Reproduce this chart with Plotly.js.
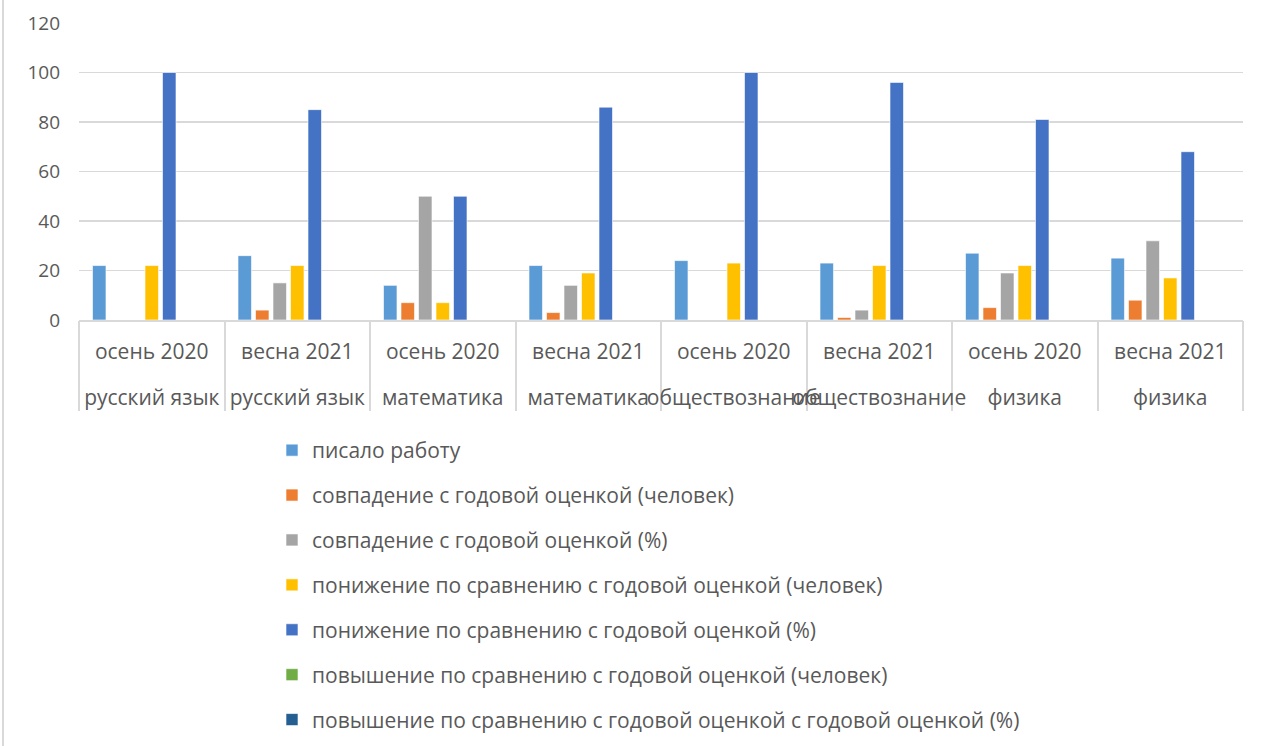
<!DOCTYPE html>
<html>
<head>
<meta charset="utf-8">
<script src="https://cdn.plot.ly/plotly-3.0.1.min.js"></script>
<style>
  html, body { margin: 0; padding: 0; background: #fff; }
  #wrap { position: relative; width: 1283px; height: 746px; }
  #chart { width: 1283px; height: 746px; }
  #edge { position: absolute; left: 2px; top: 0; width: 2px; height: 746px; background: #d9d9d9; }
</style>
</head>
<body>
<div id="wrap"><div id="chart"></div><div id="edge"></div></div>
<script>
// ---- data ----
const seasons  = ['осень 2020', 'весна 2021', 'осень 2020', 'весна 2021', 'осень 2020', 'весна 2021', 'осень 2020', 'весна 2021'];
const subjects = ['русский язык', 'русский язык', 'математика', 'математика', 'обществознание', 'обществознание', 'физика', 'физика'];

const seriesNames = [
  'писало работу',
  'совпадение с годовой оценкой (человек)',
  'совпадение с годовой оценкой (%)',
  'понижение по сравнению с годовой оценкой (человек)',
  'понижение по сравнению с годовой оценкой (%)',
  'повышение по сравнению с годовой оценкой (человек)',
  'повышение по сравнению с годовой оценкой с годовой оценкой (%)'
];
const wrote        = [22, 26, 14, 22, 24, 23, 27, 25];
const matchPeople  = [0, 4, 7, 3, 0, 1, 5, 8];
const matchPct     = [0, 15, 50, 14, 0, 4, 19, 32];
const lowerPeople  = [22, 22, 7, 19, 23, 22, 22, 17];
const lowerPct     = [100, 85, 50, 86, 100, 96, 81, 68];
const higherPeople = [0, 0, 0, 0, 0, 0, 0, 0];
const higherPct    = [0, 0, 0, 0, 0, 0, 0, 0];

const yTicks = [0, 20, 40, 60, 80, 100, 120];

// ---- styling ----
const colors = ['#5B9BD5', '#ED7D31', '#A5A5A5', '#FFC000', '#4472C4', '#70AD47', '#255E91'];
const textColor = '#595959';
const gridColor = '#D9D9D9';
const fontFamily = '"Open Sans", "Noto Sans", sans-serif';
const labelSize = 21;

const cats = seasons.map((s, i) => s + ' | ' + subjects[i]);
const allSeries = [wrote, matchPeople, matchPct, lowerPeople, lowerPct, higherPeople, higherPct];

const traces = allSeries.map((vals, k) => ({
  type: 'bar',
  name: seriesNames[k],
  x: cats,
  y: vals,
  legendgroup: 'g' + k,
  marker: { color: colors[k], line: { color: 'rgba(255,255,255,0.6)', width: 1 } },
  hoverinfo: 'x+y+name'
}));

// helper traces so the extra axes know the categories
traces.push({ type: 'bar', x: cats, y: cats.map(() => null), xaxis: 'x2', showlegend: false, hoverinfo: 'skip' });
traces.push({ type: 'bar', x: cats, y: cats.map(() => null), xaxis: 'x3', showlegend: false, hoverinfo: 'skip' });

const H = 746, T = 23, B = 14;
const paperH = H - T - B;
const plotBottomPx = 320;
const yDomBottom = (H - B - plotBottomPx) / paperH;
const subjAxisPx = 383;

const layout = {
  width: 1283,
  height: 746,
  margin: { l: 79, r: 40, t: T, b: B, autoexpand: false },
  paper_bgcolor: '#ffffff',
  plot_bgcolor: '#ffffff',
  font: { family: fontFamily, color: textColor, size: labelSize },
  barmode: 'group',
  bargap: 0.158,
  bargroupgap: 0.23,
  showlegend: true,
  legend: {
    orientation: 'v',
    x: (272 - 79) / 1164,
    xanchor: 'left',
    y: (H - B - 430) / paperH,
    yanchor: 'top',
    font: { family: fontFamily, color: textColor, size: labelSize },
    tracegroupgap: 14.6,
    traceorder: 'grouped',
    bgcolor: 'rgba(0,0,0,0)'
  },
  yaxis: {
    domain: [yDomBottom, 1],
    range: [0, 120],
    tickvals: yTicks,
    showgrid: true,
    gridcolor: gridColor,
    gridwidth: 1.5,
    zeroline: false,
    showline: false,
    ticks: '',
    ticklabelstandoff: 18,
    tickfont: { family: fontFamily, color: textColor, size: 19 },
    fixedrange: true
  },
  xaxis: {
    type: 'category',
    anchor: 'y',
    categoryarray: cats,
    tickvals: cats,
    ticktext: seasons,
    tickangle: 0,
    ticks: '',
    showline: true,
    linecolor: gridColor,
    linewidth: 2,
    showgrid: false,
    zeroline: false,
    ticklabelstandoff: 12,
    tickfont: { family: fontFamily, color: textColor, size: labelSize },
    fixedrange: true
  },
  xaxis2: {
    type: 'category',
    overlaying: 'x',
    anchor: 'y',
    categoryarray: cats,
    tickvals: cats,
    showticklabels: false,
    ticks: 'outside',
    tickson: 'boundaries',
    ticklen: 90,
    tickwidth: 2,
    tickcolor: gridColor,
    showline: false,
    showgrid: false,
    zeroline: false,
    fixedrange: true
  },
  xaxis3: {
    type: 'category',
    overlaying: 'x',
    anchor: 'free',
    position: (H - B - subjAxisPx) / paperH,
    categoryarray: cats,
    tickvals: cats,
    ticktext: subjects,
    tickangle: 0,
    ticks: '',
    showline: false,
    showgrid: false,
    zeroline: false,
    tickfont: { family: fontFamily, color: textColor, size: labelSize },
    fixedrange: true
  }
};

Plotly.newPlot('chart', traces, layout, { displayModeBar: false, staticPlot: true });
</script>
</body>
</html>
